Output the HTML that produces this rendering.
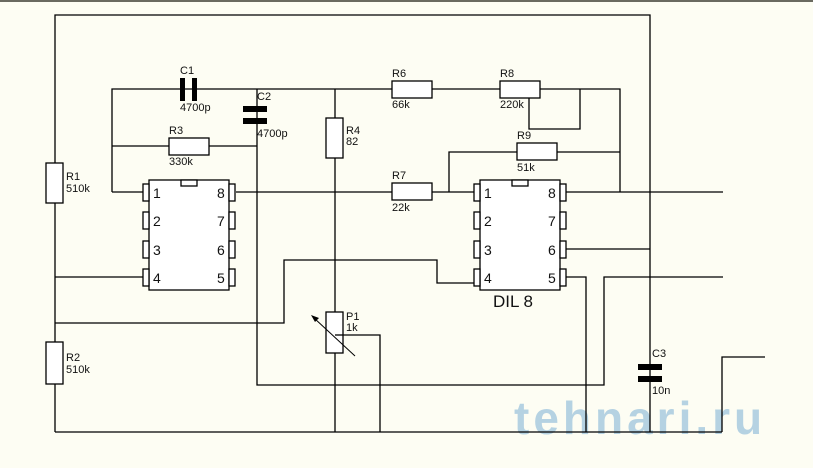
<!DOCTYPE html>
<html><head><style>
body{margin:0;background:#fdfdf3;}
svg{display:block}
text{font-family:"Liberation Sans",sans-serif;fill:#111}
</style></head><body>
<svg width="813" height="468" viewBox="0 0 813 468">
<rect x="0" y="0" width="813" height="2" fill="#6a6a60"/>
<text x="514" y="434" font-size="46" font-weight="bold" style="fill:#a9cbe0;opacity:.85;letter-spacing:4px">tehnari.ru</text>
<g stroke="#000" stroke-width="1.3" fill="none">
<polyline points="55,432 55,15 650,15 650,432"/>
<line x1="55" y1="432" x2="722" y2="432"/>
<polyline points="722,432 722,357 765,357"/>
<polyline points="112,192 112,89 392,89"/>
<line x1="432" y1="89" x2="500" y2="89"/>
<polyline points="540,89 620,89 620,192"/>
<polyline points="580,89 580,129 529,129 529,95"/>
<line x1="112" y1="146" x2="169" y2="146"/>
<line x1="209" y1="146" x2="257" y2="146"/>
<polyline points="257,89 257,385 604,385 604,277 723,277"/>
<line x1="335" y1="89" x2="335" y2="432"/>
<line x1="112" y1="192" x2="143" y2="192"/>
<line x1="236" y1="192" x2="392" y2="192"/>
<line x1="432" y1="192" x2="474" y2="192"/>
<polyline points="449,192 449,152 517,152"/>
<line x1="557" y1="152" x2="620" y2="152"/>
<line x1="566" y1="192" x2="723" y2="192"/>
<line x1="566" y1="249" x2="650" y2="249"/>
<polyline points="566,277 586,277 586,432"/>
<line x1="55" y1="277" x2="143" y2="277"/>
<polyline points="474,283 437,283 437,260 284,260 284,323 55,323"/>
<polyline points="335,335 380,335 380,432"/>
</g>
<g stroke="#000" stroke-width="1.3" fill="#fff">
<rect x="46" y="163" width="17" height="40"/>
<rect x="46" y="342" width="17" height="42"/>
<rect x="169" y="138" width="40" height="17"/>
<rect x="326" y="118" width="17" height="40"/>
<rect x="392" y="81" width="40" height="17"/>
<rect x="500" y="81" width="40" height="17"/>
<rect x="517" y="143" width="40" height="17"/>
<rect x="392" y="183" width="40" height="17"/>
<rect x="326" y="312" width="17" height="41"/>
<rect x="149" y="180" width="80" height="110"/>
<rect x="480" y="180" width="80" height="110"/>
<rect x="181" y="180" width="16" height="6"/>
<rect x="512" y="180" width="16" height="6"/>
<rect x="143" y="184" width="6" height="17"/><rect x="143" y="212" width="6" height="17"/><rect x="143" y="241" width="6" height="17"/><rect x="143" y="269" width="6" height="17"/>
<rect x="229" y="184" width="6" height="17"/><rect x="229" y="212" width="6" height="17"/><rect x="229" y="241" width="6" height="17"/><rect x="229" y="269" width="6" height="17"/>
<rect x="474" y="184" width="6" height="17"/><rect x="474" y="212" width="6" height="17"/><rect x="474" y="241" width="6" height="17"/><rect x="474" y="269" width="6" height="17"/>
<rect x="560" y="184" width="6" height="17"/><rect x="560" y="212" width="6" height="17"/><rect x="560" y="241" width="6" height="17"/><rect x="560" y="269" width="6" height="17"/>
</g>
<line x1="335" y1="335" x2="343" y2="335" stroke="#000" stroke-width="1.3"/>
<line x1="355" y1="356" x2="314" y2="318" stroke="#000" stroke-width="1"/>
<polygon points="311,315 319,318 315,322" fill="#000"/>
<g fill="#000">
<rect x="180" y="78" width="5" height="23"/><rect x="192" y="78" width="5" height="23"/>
<rect x="243" y="106" width="24" height="6"/><rect x="243" y="118" width="24" height="6"/>
<rect x="638" y="364" width="24" height="6"/><rect x="638" y="376" width="24" height="6"/>
</g>
<g font-size="11">
<text x="180" y="74">C1</text><text x="180" y="111">4700p</text>
<text x="257" y="100">C2</text><text x="257" y="137">4700p</text>
<text x="169" y="134">R3</text><text x="169" y="165">330k</text>
<text x="66" y="180">R1</text><text x="66" y="192">510k</text>
<text x="66" y="361">R2</text><text x="66" y="373">510k</text>
<text x="346" y="134">R4</text><text x="346" y="145">82</text>
<text x="392" y="77">R6</text><text x="392" y="108">66k</text>
<text x="500" y="77">R8</text><text x="500" y="108">220k</text>
<text x="517" y="139">R9</text><text x="517" y="171">51k</text>
<text x="392" y="179">R7</text><text x="392" y="211">22k</text>
<text x="346" y="320">P1</text><text x="346" y="331">1k</text>
<text x="652" y="357">C3</text><text x="652" y="394">10n</text>
</g>
<g font-size="14">
<text x="153" y="198">1</text><text x="153" y="226">2</text><text x="153" y="255">3</text><text x="153" y="283">4</text>
<text x="217" y="198">8</text><text x="217" y="226">7</text><text x="217" y="255">6</text><text x="217" y="283">5</text>
<text x="484" y="198">1</text><text x="484" y="226">2</text><text x="484" y="255">3</text><text x="484" y="283">4</text>
<text x="548" y="198">8</text><text x="548" y="226">7</text><text x="548" y="255">6</text><text x="548" y="283">5</text>
</g>
<text x="493" y="307" font-size="17">DIL 8</text>
</svg>
</body></html>
